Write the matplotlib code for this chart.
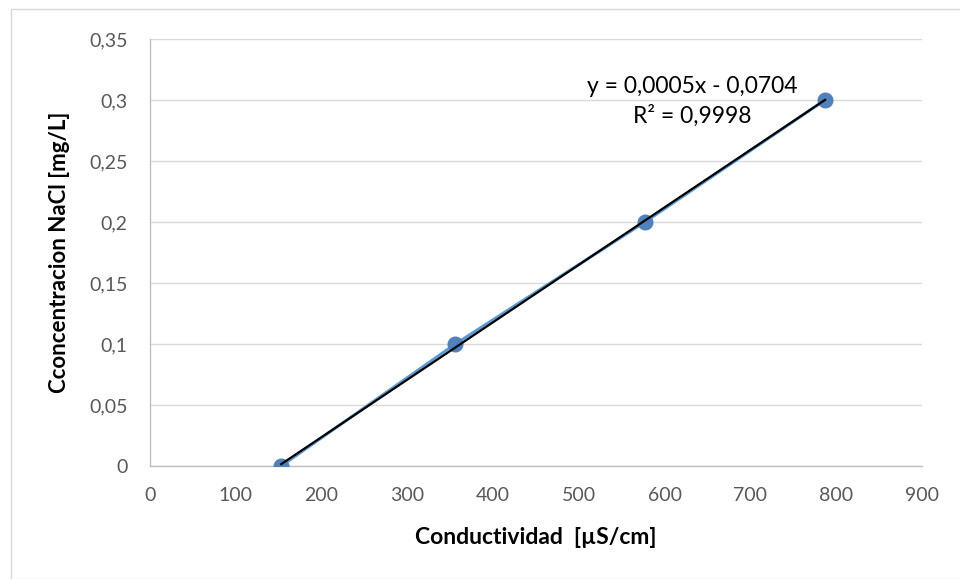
import numpy as np
import matplotlib.pyplot as plt
from matplotlib.ticker import FuncFormatter, MultipleLocator
from matplotlib.patches import Rectangle

# data
conductividad = [153, 356, 577, 787]
concentracion = [0.0, 0.1, 0.2, 0.3]

eq_text = 'y = 0,0005x - 0,0704'
r2_text = 'R² = 0,9998'

plt.rcParams['font.family'] = ['Lato', 'DejaVu Sans']

fig = plt.figure(figsize=(9.6, 5.79), dpi=100)
ax = fig.add_axes([150/960, 1 - 466/579, 772/960, 427/579])

# light border round the chart area
fig.patches.append(Rectangle((11/960, 0), 1, 1 - 9/579, transform=fig.transFigure,
                             fill=False, edgecolor='#d9d9d9', linewidth=1.0))

blue = '#4f81bd'
ax.plot(conductividad, concentracion, color='#5b9bd5', linewidth=2.2, zorder=3)
ax.plot(conductividad, concentracion, 'o', color=blue, markersize=10.5, zorder=4)

# linear trendline
m, b = np.polyfit(conductividad, concentracion, 1)
xs = np.array([min(conductividad), max(conductividad)])
ax.plot(xs, m*xs + b, color='black', linewidth=1.6, zorder=5)

ax.set_xlim(0, 900)
ax.set_ylim(0, 0.35)
ax.xaxis.set_major_locator(MultipleLocator(100))
ax.yaxis.set_major_locator(MultipleLocator(0.05))

def fmt(v, pos):
    s = ('%.2f' % v).rstrip('0').rstrip('.')
    return s.replace('.', ',')

ax.yaxis.set_major_formatter(FuncFormatter(fmt))
ax.xaxis.set_major_formatter(FuncFormatter(lambda v, p: '%d' % v))

ax.grid(axis='y', color='#d9d9d9', linewidth=1.0)
ax.set_axisbelow(True)
for s in ['top', 'right']:
    ax.spines[s].set_visible(False)
for s in ['left', 'bottom']:
    ax.spines[s].set_color('#bfbfbf')
    ax.spines[s].set_linewidth(1.0)
ax.tick_params(length=0, labelsize=14, labelcolor='#595959')
ax.tick_params(axis='x', pad=15)
ax.tick_params(axis='y', pad=16)

ax.set_xlabel('Conductividad  [µS/cm]', fontsize=16.5, fontweight='bold', labelpad=17)
ax.set_ylabel('Cconcentracion NaCl [mg/L]', fontsize=16, fontweight='bold', labelpad=14)

ax.text(632, 0.299, eq_text + '\n' + r2_text, ha='center', va='center',
        fontsize=16.5, linespacing=1.4, color='black')

plt.savefig('out.png', dpi=100)
